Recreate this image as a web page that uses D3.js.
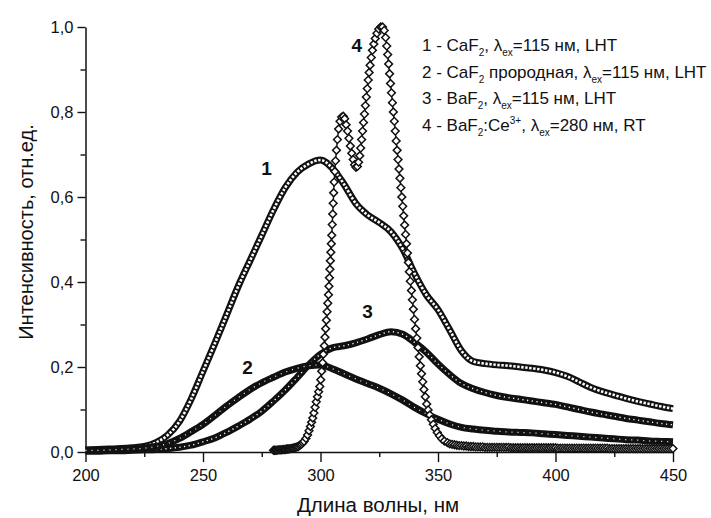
<!DOCTYPE html>
<html><head><meta charset="utf-8">
<script src="https://cdn.jsdelivr.net/npm/d3@7/dist/d3.min.js"></script>
<style>
body{margin:0;background:#fff}
svg{display:block}
text{font-family:"Liberation Sans",Arial,Helvetica,sans-serif;fill:#111}
</style>
</head><body>
<svg id="c" width="711" height="518"></svg>
<script>
// ---------- data ----------
const wavelengths = [200,205,210,215,220,225,230,235,240,245,250,255,260,265,270,275,280,285,290,295,300,305,310,315,320,325,330,335,340,345,350,355,360,365,370,375,380,385,390,395,400,405,410,415,420,425,430,435,440,445,450];
// 1 - CaF2, LHT
const series1 = [0.005,0.006,0.007,0.008,0.010,0.013,0.022,0.040,0.072,0.125,0.190,0.255,0.322,0.390,0.450,0.510,0.570,0.622,0.658,0.678,0.687,0.668,0.630,0.585,0.558,0.540,0.518,0.478,0.420,0.370,0.335,0.287,0.238,0.213,0.208,0.205,0.203,0.200,0.197,0.193,0.187,0.178,0.165,0.152,0.142,0.134,0.126,0.119,0.113,0.107,0.102];
// 2 - CaF2 прородная, LHT
const series2 = [0.004,0.004,0.005,0.006,0.007,0.009,0.013,0.020,0.032,0.048,0.065,0.086,0.108,0.128,0.147,0.163,0.176,0.188,0.197,0.203,0.205,0.196,0.184,0.172,0.161,0.150,0.137,0.122,0.105,0.090,0.077,0.066,0.058,0.054,0.051,0.049,0.047,0.046,0.045,0.043,0.041,0.039,0.037,0.035,0.033,0.031,0.029,0.028,0.026,0.025,0.024];
// 3 - BaF2, LHT
const series3 = [0.002,0.002,0.003,0.003,0.004,0.005,0.006,0.008,0.011,0.016,0.024,0.033,0.046,0.061,0.077,0.096,0.120,0.146,0.175,0.205,0.230,0.245,0.250,0.257,0.266,0.276,0.283,0.277,0.258,0.235,0.207,0.182,0.161,0.149,0.140,0.133,0.128,0.124,0.120,0.116,0.112,0.106,0.100,0.094,0.089,0.084,0.079,0.075,0.071,0.067,0.064];
// 4 - BaF2:Ce3+, RT  [wavelength, intensity]
const series4 = [[280,0.004],[280.5,0.004],[281,0.004],[281.5,0.004],[282,0.005],[282.5,0.005],[283,0.005],[283.5,0.005],[284,0.006],[284.5,0.006],[285,0.006],[285.5,0.007],[286,0.007],[286.5,0.007],[287,0.008],[287.5,0.008],[288,0.009],[288.5,0.009],[289,0.010],[289.5,0.011],[290,0.012],[290.5,0.013],[291,0.015],[291.5,0.017],[292,0.019],[292.5,0.022],[293,0.025],[293.8,0.032],[294.5,0.040],[295.1,0.050],[295.7,0.060],[296.2,0.070],[296.7,0.080],[297.2,0.092],[297.7,0.105],[298.2,0.118],[298.7,0.130],[299.2,0.142],[299.7,0.154],[300.1,0.170],[300.5,0.190],[300.9,0.210],[301.2,0.230],[301.6,0.250],[301.9,0.270],[302.2,0.290],[302.5,0.310],[302.8,0.330],[303.1,0.350],[303.4,0.370],[303.6,0.390],[303.8,0.410],[304.0,0.430],[304.2,0.450],[304.4,0.470],[304.6,0.490],[304.8,0.510],[305.0,0.535],[305.2,0.560],[305.4,0.585],[305.6,0.610],[305.8,0.635],[306.1,0.660],[306.4,0.685],[306.8,0.710],[307.2,0.735],[307.7,0.760],[308.3,0.778],[309.0,0.788],[309.7,0.790],[310.3,0.784],[310.9,0.770],[311.5,0.755],[312.1,0.738],[312.7,0.720],[313.3,0.703],[313.9,0.688],[314.5,0.676],[315.1,0.670],[315.7,0.672],[316.2,0.682],[316.7,0.697],[317.1,0.715],[317.5,0.735],[317.9,0.755],[318.3,0.775],[318.7,0.795],[319.1,0.815],[319.5,0.835],[319.9,0.855],[320.3,0.875],[320.7,0.893],[321.1,0.910],[321.6,0.928],[322.1,0.945],[322.7,0.960],[323.3,0.973],[324.0,0.985],[324.8,0.995],[325.6,1.000],[326.4,1.000],[327.1,0.992],[327.7,0.975],[328.2,0.955],[328.6,0.935],[329.0,0.913],[329.4,0.890],[329.8,0.867],[330.2,0.845],[330.6,0.822],[331.0,0.800],[331.4,0.778],[331.8,0.755],[332.2,0.732],[332.6,0.710],[333.0,0.688],[333.4,0.666],[333.8,0.644],[334.2,0.622],[334.6,0.600],[335.0,0.578],[335.4,0.556],[335.8,0.534],[336.2,0.512],[336.6,0.490],[337.0,0.468],[337.4,0.446],[337.8,0.424],[338.2,0.402],[338.7,0.380],[339.1,0.358],[339.5,0.336],[340.0,0.312],[340.5,0.290],[341.0,0.268],[341.5,0.246],[342.0,0.224],[342.5,0.203],[343.0,0.184],[343.5,0.165],[344.0,0.147],[344.6,0.130],[345.2,0.113],[345.8,0.099],[346.5,0.087],[347.2,0.076],[348.0,0.065],[348.8,0.055],[349.7,0.046],[350.6,0.038],[351.6,0.031],[352.7,0.026],[354.0,0.022],[355,0.019],[356,0.018],[357,0.017],[358,0.016],[359,0.015],[360,0.015],[361,0.014],[362,0.014],[363,0.013],[364,0.013],[365,0.013],[366,0.012],[367,0.012],[368,0.012],[369,0.012],[370,0.011],[371,0.011],[372,0.011],[373,0.011],[374,0.011],[375,0.011],[376,0.011],[377,0.011],[378,0.011],[379,0.011],[380,0.011],[381,0.010],[382,0.010],[383,0.010],[384,0.010],[385,0.010],[386,0.010],[387,0.010],[388,0.010],[389,0.010],[390,0.010],[391,0.010],[392,0.010],[393,0.010],[394,0.010],[395,0.010],[396,0.010],[397,0.010],[398,0.010],[399,0.010],[400,0.010],[401,0.009],[402,0.009],[403,0.009],[404,0.009],[405,0.009],[406,0.009],[407,0.009],[408,0.009],[409,0.009],[410,0.009],[411,0.009],[412,0.009],[413,0.009],[414,0.009],[415,0.009],[416,0.009],[417,0.009],[418,0.009],[419,0.009],[420,0.009],[421,0.009],[422,0.009],[423,0.008],[424,0.008],[425,0.008],[426,0.008],[427,0.008],[428,0.008],[429,0.008],[430,0.008],[431,0.008],[432,0.008],[433,0.008],[434,0.008],[435,0.008],[436,0.008],[437,0.008],[438,0.008],[439,0.008],[440,0.008],[441,0.008],[442,0.008],[443,0.008],[444,0.008],[445,0.008],[446,0.008],[447,0.008],[448,0.008],[449,0.008],[450,0.008]];

const xTicks = [200,250,300,350,400,450];
const xMinorTicks = [225,275,325,375,425];
const yTicks = [0,0.2,0.4,0.6,0.8,1.0];
const yTickLabels = ["0,0","0,2","0,4","0,6","0,8","1,0"];
const yMinorTicks = [0.1,0.3,0.5,0.7,0.9];
const xTitle = "Длина волны, нм";
const yTitle = "Интенсивность, отн.ед.";
const curveLabels = [{t:"1",x:277,y:0.652},{t:"2",x:269,y:0.184},{t:"3",x:320,y:0.316},{t:"4",x:315.4,y:0.941}];

// ---------- chart ----------
const svg = d3.select("#c");
const x = d3.scaleLinear().domain([200,450]).range([85.5,673]);
const y = d3.scaleLinear().domain([0,1]).range([452,27]);

const g = svg.append("g");

function styleAxis(sel){
  sel.selectAll("path.domain").attr("stroke","#111").attr("stroke-width",1.5);
  sel.selectAll(".tick line").attr("stroke","#111").attr("stroke-width",1.4);
  sel.selectAll(".tick text").attr("fill","#111").style("font-family",'"Liberation Sans",Arial,sans-serif').style("font-size","16.5px");
}

// minor ticks
g.append("g").attr("transform","translate(0,452)")
  .call(d3.axisBottom(x).tickValues(xMinorTicks).tickSize(5).tickFormat(""))
  .call(styleAxis).select("path.domain").remove();
g.append("g").attr("transform","translate(85.5,0)")
  .call(d3.axisLeft(y).tickValues(yMinorTicks).tickSize(5).tickFormat(""))
  .call(styleAxis).select("path.domain").remove();

// major axes
g.append("g").attr("transform","translate(0,452)")
  .call(d3.axisBottom(x).tickValues(xTicks).tickSize(10).tickSizeOuter(0).tickPadding(7))
  .call(styleAxis);
g.append("g").attr("transform","translate(85.5,0)")
  .call(d3.axisLeft(y).tickValues(yTicks).tickSize(8).tickSizeOuter(0).tickPadding(4).tickFormat((d,i)=>yTickLabels[i]))
  .call(styleAxis);

// titles
svg.append("text").attr("x",378).attr("y",512).attr("text-anchor","middle")
  .style("font-size","20.5px").text(xTitle);
svg.append("text").attr("transform","translate(33,232) rotate(-90)").attr("text-anchor","middle")
  .style("font-size","20px").text(yTitle);

// curves 1-3 (dense markers -> thick band)
const line = d3.line().x((d,i)=>x(wavelengths[i])).y(d=>y(d)).curve(d3.curveMonotoneX);
const bands = [
  {data:series1, dash:"2.4,1.6", inner:2.6},
  {data:series3, dash:"1.2,3.5", inner:1.4},
  {data:series2, dash:"1,5", inner:1.2}
];
bands.forEach(b=>{
  g.append("path").attr("d",line(b.data)).attr("fill","none")
    .attr("stroke","#111").attr("stroke-width",7).attr("stroke-linejoin","round");
  g.append("path").attr("d",line(b.data)).attr("fill","none")
    .attr("stroke","#fff").attr("stroke-width",b.inner).attr("stroke-dasharray",b.dash);
});

// curve 4 (open diamonds)
const line4 = d3.line().x(d=>x(d[0])).y(d=>y(d[1]));
g.append("path").attr("d",line4(series4)).attr("fill","none").attr("stroke","#111").attr("stroke-width",1.4);
const sym = d3.symbol().type(d3.symbolSquare).size(30);
g.append("g").selectAll("path").data(series4).join("path")
  .attr("d",sym)
  .attr("transform",d=>`translate(${x(d[0])},${y(d[1])}) rotate(45)`)
  .attr("fill","#fff").attr("stroke","#111").attr("stroke-width",1.5);

// curve labels
svg.append("g").selectAll("text").data(curveLabels).join("text")
  .attr("x",d=>x(d.x)).attr("y",d=>y(d.y)).attr("text-anchor","middle")
  .style("font-size","19px").style("font-weight","bold").text(d=>d.t);

// legend
const legend = [
  [["1 - CaF"],["2","sub"],[", λ"],["ex","sub"],["=115 нм, LHT"]],
  [["2 - CaF"],["2","sub"],[" прородная, λ"],["ex","sub"],["=115 нм, LHT"]],
  [["3 - BaF"],["2","sub"],[", λ"],["ex","sub"],["=115 нм, LHT"]],
  [["4 - BaF"],["2","sub"],[":Ce"],["3+","sup"],[", λ"],["ex","sub"],["=280 нм, RT"]]
];
const lg = svg.append("g");
legend.forEach((parts,i)=>{
  const t = lg.append("text").attr("x",422).attr("y",51+i*26.6).style("font-size","17px");
  let shift = 0;
  parts.forEach(p=>{
    const kind = p[1];
    const target = kind==="sub"?5:kind==="sup"?-7:0;
    t.append("tspan").attr("dy",target-shift)
      .style("font-size",kind?"10px":"17px").text(p[0]);
    shift = target;
  });
});
</script>
</body></html>
